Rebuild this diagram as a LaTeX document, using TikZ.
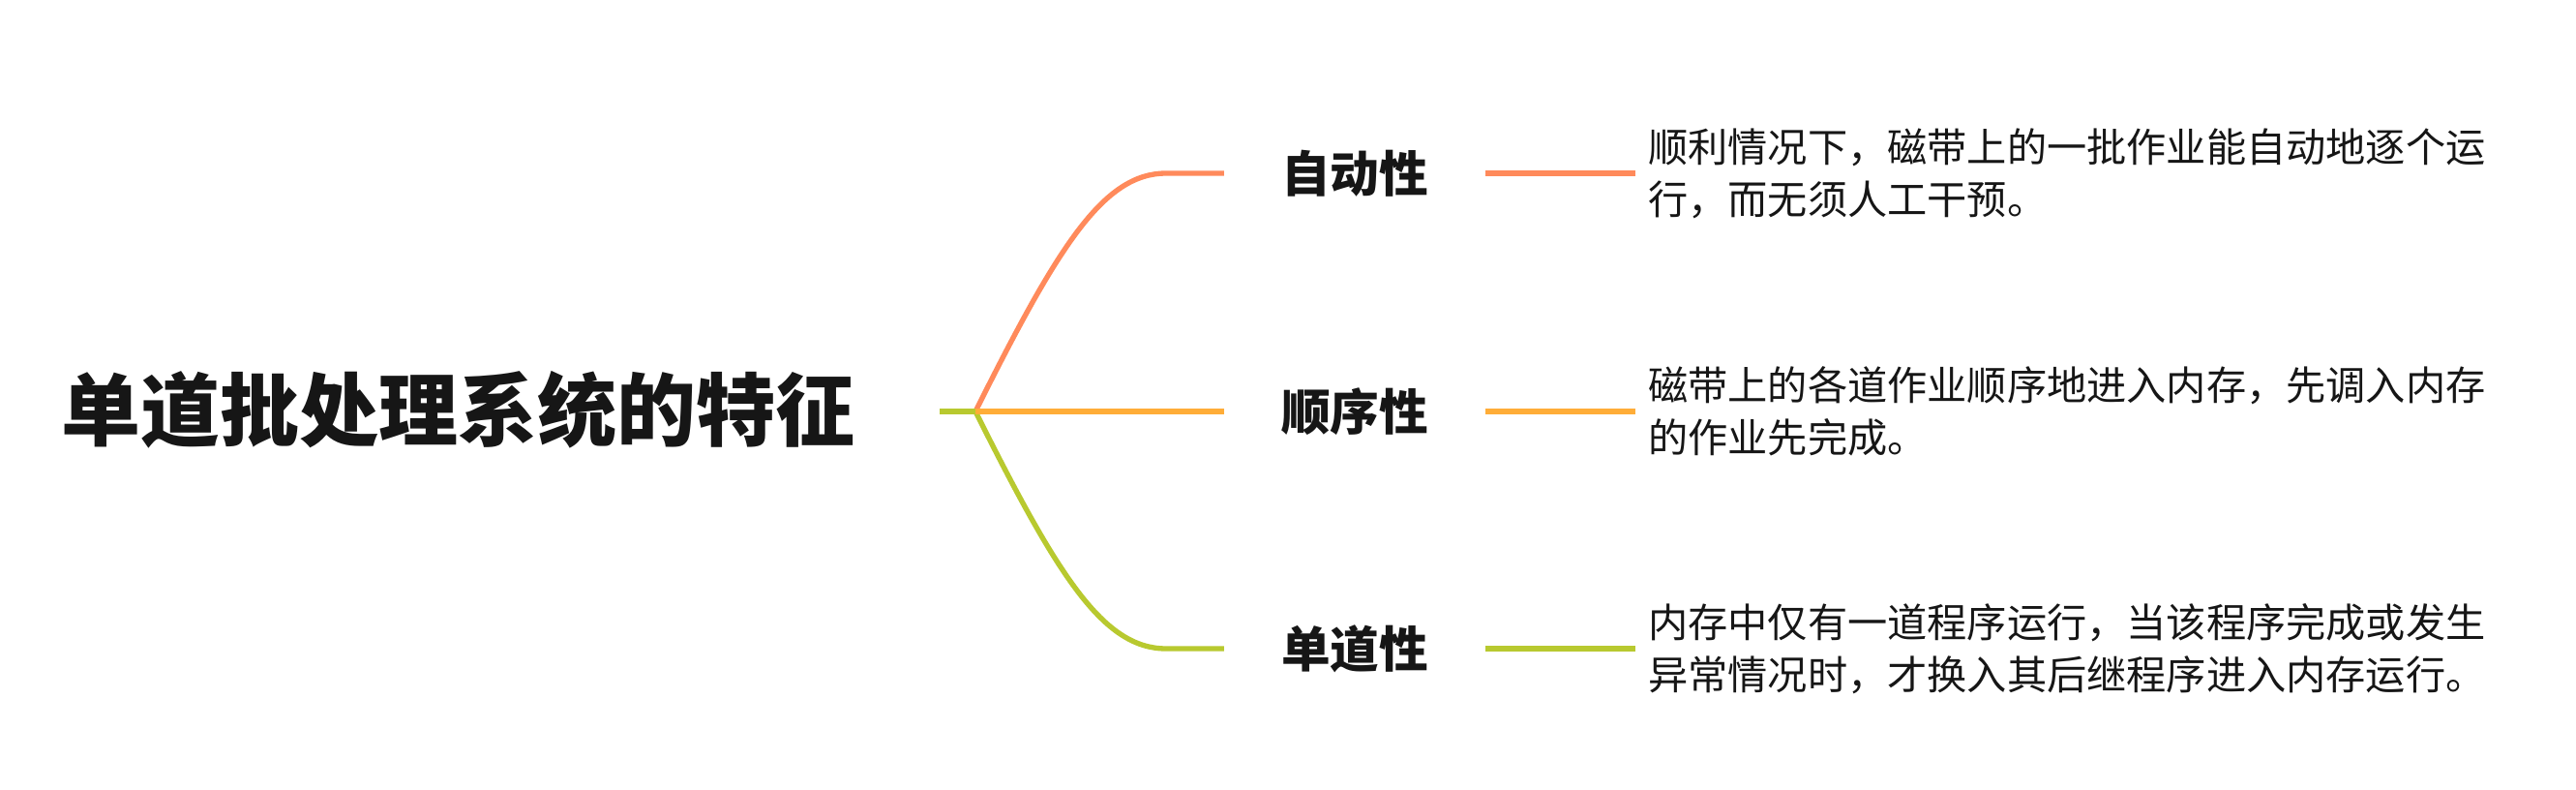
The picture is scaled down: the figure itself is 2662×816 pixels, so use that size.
\documentclass[tikz,border=0pt]{standalone}
\usepackage{fontspec}
\setmainfont{Noto Sans CJK SC}
\definecolor{cA}{HTML}{FF8A5B}
\definecolor{cB}{HTML}{FFAD38}
\definecolor{cC}{HTML}{B8C92F}
\definecolor{ink}{HTML}{161616}
\tikzset{
  rootbox/.style={inner sep=0pt, text=ink, font=\fontsize{61.5pt}{70pt}\selectfont\bfseries},
  labelbox/.style={inner sep=0pt, minimum width=202.5pt, minimum height=45pt, text=ink, font=\fontsize{38pt}{44pt}\selectfont\bfseries},
  descbox/.style={anchor=west, inner xsep=9.75pt, inner ysep=0pt, align=left, text=ink, font=\fontsize{30.9pt}{40.5pt}\selectfont},
  branch/.style={line width=4pt, line cap=butt},
}
\begin{document}
\begin{tikzpicture}[x=0.75pt,y=-0.75pt]
\path[fill=white] (0,0) rectangle (2662,816);
\node[rootbox] (root) at (473.7,423) {单道批处理系统的特征};
\coordinate (s) at (971,425);
\coordinate (j) at (1008,425);
\node[labelbox] (a1) at (1400,179) {自动性};
\node[labelbox] (a2) at (1400,425) {顺序性};
\node[labelbox] (a3) at (1400,670) {单道性};
\coordinate (k1) at (1205,179);
\coordinate (k3) at (1205,670);
\node[descbox] (d1) at (1690,179) {顺利情况下，磁带上的一批作业能自动地逐个运\\行，而无须人工干预。};
\node[descbox] (d2) at (1690,425) {磁带上的各道作业顺序地进入内存，先调入内存\\的作业先完成。};
\node[descbox] (d3) at (1690,670) {内存中仅有一道程序运行，当该程序完成或发生\\异常情况时，才换入其后继程序进入内存运行。};
\draw[branch, cA] (j) .. controls +(85,-170) and +(-65,0) .. (k1) -- (a1.west);
\draw[branch, cC] (j) .. controls +(85,170) and +(-65,0) .. (k3) -- (a3.west);
\draw[branch, cB] (j) -- (a2.west);
\draw[branch, cC] (s) -- (j);
\draw[branch, cA] (a1.east) -- (d1.west);
\draw[branch, cB] (a2.east) -- (d2.west);
\draw[branch, cC] (a3.east) -- (d3.west);
\end{tikzpicture}
\end{document}
